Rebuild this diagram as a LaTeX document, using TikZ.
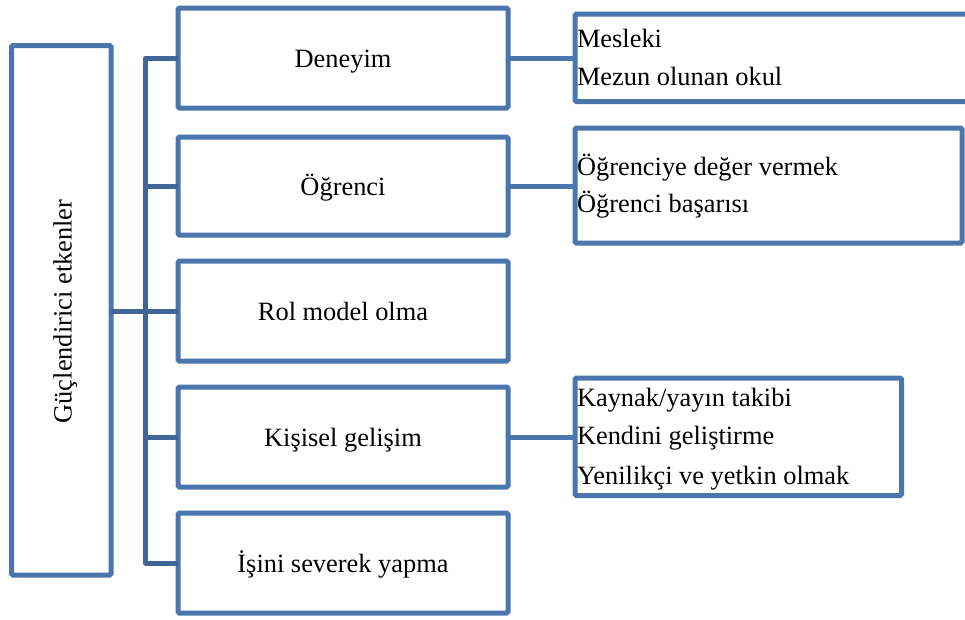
\documentclass[tikz,border=0pt]{standalone}
\usepackage{fontspec}
\setmainfont{Liberation Serif}
\definecolor{boxblue}{RGB}{74,118,173}
\definecolor{linkblue}{RGB}{64,102,152}
\begin{document}
\begin{tikzpicture}[x=1pt,y=-1pt,
  every node/.style={font=\fontsize{26.4}{32}\selectfont, inner sep=0pt, outer sep=0pt},
  frame/.style={rectangle, draw=boxblue, line width=5pt, rounded corners=1.5pt},
  midbox/.style={frame, minimum width=330pt, minimum height=100pt, text height=18pt, text depth=0pt},
  linkline/.style={draw=linkblue, line width=5pt, line join=round},
  sidelink/.style={draw=boxblue, line width=5pt},
  item/.style={anchor=base west}
]
\useasboundingbox (0,0) rectangle (965,619);
\clip (0,0) rectangle (965,619);
% left box
\node[frame, minimum width=99.5pt, minimum height=529.5pt] (root) at (61.25,310.25) {};
\node[rotate=90, anchor=base] (roottxt) at (71.5,311.5) {Güçlendirici etkenler};
% middle boxes
\node[midbox] (deneyim) at (343,58) {Deneyim};
\node[midbox, minimum height=98pt] (ogrenci) at (343,186) {Öğrenci};
\node[midbox] (rol) at (343,311) {Rol model olma};
\node[midbox] (kisisel) at (343,437) {Kişisel gelişim};
\node[midbox] (isini) at (343,563) {İşini severek yapma};
% trunk
\coordinate (tr) at (145.5,0);
\draw[linkline] (deneyim.west) -- (deneyim.west -| tr) -- (isini.west -| tr) -- (isini.west);
\draw[linkline] (ogrenci.west) -- (ogrenci.west -| tr);
\draw[linkline] (rol.west) -- (rol.west -| tr);
\draw[linkline] (kisisel.west) -- (kisisel.west -| tr);
\draw[linkline] (root.east |- rol.west) -- (rol.west -| tr);
% right boxes
\node[frame, minimum width=400pt, minimum height=87.5pt] (r1) at (775,57.75) {};
\node[frame, minimum width=387pt, minimum height=115pt] (r2) at (768.5,185.5) {};
\node[frame, minimum width=326.5pt, minimum height=117.5pt] (r3) at (738.25,436.75) {};
\draw[sidelink] (deneyim.east) -- (deneyim.east -| r1.west);
\draw[sidelink] (ogrenci.east) -- (ogrenci.east -| r2.west);
\draw[sidelink] (kisisel.east) -- (kisisel.east -| r3.west);
% right texts
\node[item] (t11) at (577,47) {Mesleki};
\node[item] (t12) at (577,85) {Mezun olunan okul};
\node[item] (t21) at (577,175) {Öğrenciye değer vermek};
\node[item] (t22) at (577,212) {Öğrenci başarısı};
\node[item] (t31) at (577,406) {Kaynak/yayın takibi};
\node[item] (t32) at (577,444) {Kendini geliştirme};
\node[item] (t33) at (577,484) {Yenilikçi ve yetkin olmak};
\end{tikzpicture}
\end{document}
